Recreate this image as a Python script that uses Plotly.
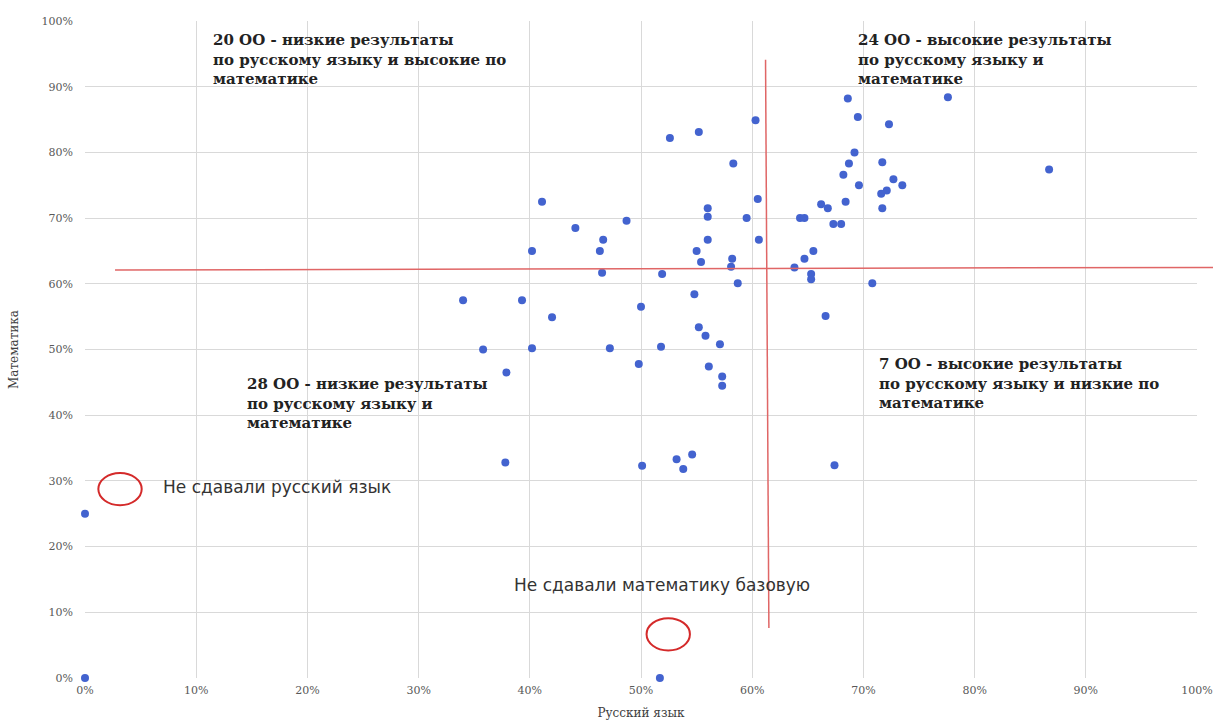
import plotly.graph_objects as go

# Russian language result (share), mathematics result (share) per school
rus = [0.526, 0.552, 0.603, 0.583, 0.411, 0.605, 0.560, 0.560, 0.595, 0.487, 0.441, 0.466,
       0.560, 0.606, 0.402, 0.463, 0.550, 0.582, 0.554, 0.581,
       0.638, 0.643, 0.686, 0.776, 0.695, 0.723, 0.692, 0.687, 0.717, 0.867, 0.682, 0.696,
       0.727, 0.735, 0.721, 0.716, 0.684, 0.662, 0.668, 0.717, 0.647, 0.673, 0.680, 0.655, 0.647,
       0.653, 0.653, 0.708, 0.666, 0.674,
       0.465, 0.519, 0.587, 0.393, 0.340, 0.548, 0.500, 0.420, 0.552, 0.558, 0.571, 0.402,
       0.472, 0.518, 0.358, 0.379, 0.498, 0.561, 0.573, 0.573, 0.378, 0.501, 0.532, 0.546, 0.538,
       0.0, 0.0, 0.517]
math = [0.822, 0.831, 0.849, 0.783, 0.725, 0.729, 0.715, 0.702, 0.700, 0.696, 0.685, 0.667,
        0.667, 0.667, 0.650, 0.650, 0.650, 0.638, 0.633, 0.626,
        0.625, 0.700, 0.882, 0.884, 0.854, 0.843, 0.800, 0.783, 0.785, 0.774, 0.766, 0.750,
        0.759, 0.750, 0.742, 0.737, 0.725, 0.721, 0.715, 0.715, 0.700, 0.691, 0.691, 0.650, 0.638,
        0.615, 0.607, 0.601, 0.551, 0.324,
        0.617, 0.615, 0.601, 0.575, 0.575, 0.584, 0.565, 0.549, 0.534, 0.521, 0.508, 0.502,
        0.502, 0.504, 0.500, 0.465, 0.478, 0.474, 0.459, 0.445, 0.328, 0.323, 0.333, 0.340, 0.318,
        0.250, 0.0, 0.0]

# Quadrant dividers
RUS_THRESHOLD = 0.613
MATH_THRESHOLD = 0.621

x_ticks = [i / 10 for i in range(11)]
y_ticks = [i / 10 for i in range(11)]

quadrant_notes = [
    ("<b>20 ОО - низкие результаты<br>по русскому языку и высокие по<br>математике</b>", 0.113, 0.988),
    ("<b>24 ОО - высокие результаты<br>по русскому языку и<br>математике</b>", 0.693, 0.988),
    ("<b>28 ОО - низкие результаты<br>по русскому языку и<br>математике</b>", 0.144, 0.464),
    ("<b>7 ОО - высокие результаты<br>по русскому языку и низкие по<br>математике</b>", 0.712, 0.494),
]

serif = "DejaVu Serif, serif"
sans = "DejaVu Sans, sans-serif"

fig = go.Figure()
fig.add_trace(go.Scatter(
    x=rus, y=math, mode="markers",
    marker=dict(color="#4363CF", size=8),
    cliponaxis=False, showlegend=False, hoverinfo="skip",
))

fig.add_shape(type="line", xref="paper", yref="y", x0=0.027, x1=1.02,
              y0=MATH_THRESHOLD, y1=MATH_THRESHOLD + 0.004,
              line=dict(color="#E06666", width=1.5))
fig.add_shape(type="line", xref="x", yref="y", x0=RUS_THRESHOLD - 0.001, x1=RUS_THRESHOLD + 0.002,
              y0=0.941, y1=0.076, line=dict(color="#E06666", width=1.5))

fig.add_shape(type="circle", xref="x", yref="y", x0=0.012, x1=0.051, y0=0.263, y1=0.312,
              line=dict(color="#D42A2A", width=2))
fig.add_shape(type="circle", xref="x", yref="y", x0=0.505, x1=0.544, y0=0.042, y1=0.091,
              line=dict(color="#D42A2A", width=2))

for text, x, y in quadrant_notes:
    fig.add_annotation(text=text, x=x, y=y, xref="x", yref="y", xanchor="left", yanchor="top",
                       align="left", showarrow=False,
                       font=dict(family=serif, size=15, color="#222222"))

fig.add_annotation(text="Не сдавали русский язык", x=0.068, y=0.29, xref="x", yref="y",
                   xanchor="left", yanchor="middle", showarrow=False,
                   font=dict(family=sans, size=17, color="#333333"))
fig.add_annotation(text="Не сдавали математику базовую", x=0.384, y=0.142, xref="x", yref="y",
                   xanchor="left", yanchor="middle", showarrow=False,
                   font=dict(family=sans, size=17, color="#333333"))

fig.update_layout(
    width=1213, height=720,
    margin=dict(l=85, r=16, t=21, b=42, autoexpand=False),
    plot_bgcolor="white", paper_bgcolor="white",
    font=dict(family=serif, color="#595959"),
)
fig.update_xaxes(range=[0, 1], tickvals=x_ticks, tickformat=".0%", showgrid=True,
                 gridcolor="#D9D9D9", gridwidth=1, zeroline=False, showline=False,
                 automargin=False, ticklabelstandoff=4,
                 tickfont=dict(family=serif, size=11, color="#595959"),
                 title=dict(text="Русский язык", font=dict(family=serif, size=12, color="#404040"),
                            standoff=14))
fig.update_yaxes(range=[0, 1], tickvals=y_ticks, tickformat=".0%", showgrid=True,
                 gridcolor="#D9D9D9", gridwidth=1, zeroline=False, showline=False,
                 automargin=False,
                 tickfont=dict(family=serif, size=11, color="#595959"), ticklabelstandoff=11,
                 title=dict(text="Математика", font=dict(family=serif, size=12, color="#404040"),
                            standoff=20))

fig.write_html("out.html", config={"displayModeBar": False},
               post_script="document.body.style.margin='0';")
